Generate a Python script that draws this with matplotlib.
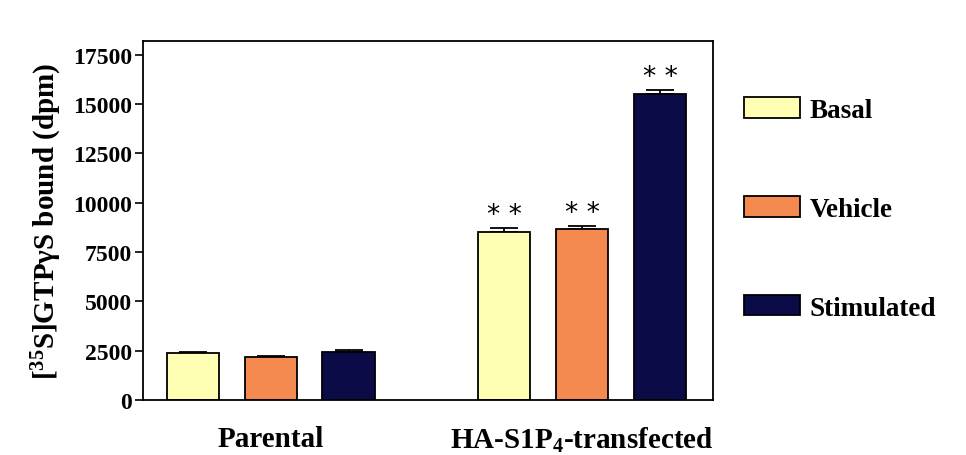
import numpy as np
import matplotlib.pyplot as plt
from matplotlib.patches import Patch

plt.rcParams['font.family'] = ['Liberation Serif', 'DejaVu Serif']
plt.rcParams['font.weight'] = 'bold'
plt.rcParams['axes.labelweight'] = 'bold'
plt.rcParams['mathtext.fontset'] = 'custom'
plt.rcParams['mathtext.rm'] = 'Liberation Serif:bold'
plt.rcParams['mathtext.bf'] = 'Liberation Serif:bold'
plt.rcParams['mathtext.it'] = 'Liberation Serif:bold'

groups = ['Parental', 'HA-S1P$_4$-transfected']
series = ['Basal', 'Vehicle', 'Stimulated']
colors = ['#FFFFB4', '#F58A50', '#0B0B48']
basal = [2400, 8500]
vehicle = [2150, 8650]
stimulated = [2450, 15500]
basal_err = [40, 200]
vehicle_err = [80, 180]
stimulated_err = [60, 200]
signif = ['', '* *']

fig = plt.figure(figsize=(9.66, 4.56), dpi=100)
ax = fig.add_axes([0.148, 0.121, 0.590, 0.787])

vals = [basal, vehicle, stimulated]
errs = [basal_err, vehicle_err, stimulated_err]
width = 0.67
for g in range(len(groups)):
    for s in range(len(series)):
        x = g * 4 + s
        ax.bar(x, vals[s][g], width, color=colors[s], edgecolor='black', linewidth=1.3, zorder=2)
        ax.errorbar(x, vals[s][g], yerr=[[0], [errs[s][g]]], color='black',
                    capsize=10, elinewidth=1.3, capthick=1.3, zorder=1)
        if signif[g]:
            ax.annotate(signif[g], (x, vals[s][g] + errs[s][g]), xytext=(0, 0),
                        textcoords='offset points', ha='center', va='bottom',
                        fontsize=19, family='DejaVu Sans', fontweight='normal')

ax.set_xlim(-0.64, 6.68)
ax.set_ylim(0, 18200)
ax.set_yticks(np.arange(0, 17501, 2500))
ax.tick_params(axis='y', labelsize=17, length=6, width=1.2, direction='out', pad=2)
ax.set_xticks([1, 5])
ax.set_xticklabels(groups, fontsize=21)
ax.tick_params(axis='x', length=0, pad=18)
for sp in ax.spines.values():
    sp.set_linewidth(1.3)
ax.set_ylabel('[$^{35}$S]GTP\u03b3S bound (dpm)', fontsize=21, fontweight='bold', labelpad=6)

handles = [Patch(facecolor=c, edgecolor='black', linewidth=1.3) for c in colors]
fig.legend(handles, series, loc='center left', bbox_to_anchor=(0.751, 0.54),
           frameon=False, fontsize=19.5, handlelength=2.05, handleheight=0.8,
           labelspacing=2.7, handletextpad=0.35, borderpad=0.2)

plt.savefig('out.png', dpi=100)
